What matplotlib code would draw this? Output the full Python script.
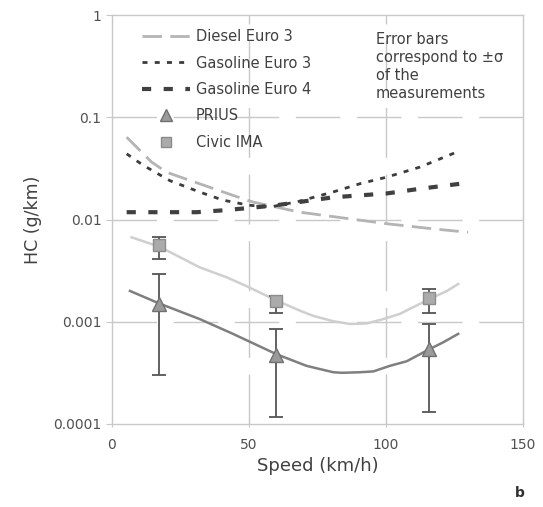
import matplotlib
matplotlib.use("Agg")
import matplotlib.pyplot as plt
from matplotlib.lines import Line2D

# ---- data ----
diesel_x = [5.4, 14.5, 20, 32, 44.3, 51.6, 68.6, 100.3, 117.3, 130]
diesel_y = [0.064, 0.0365, 0.029, 0.0224, 0.0172, 0.0148, 0.0118, 0.0091, 0.0081, 0.0075]

gas3_x = [5.4, 11.4, 21.2, 32, 40.5, 50, 58, 68, 80.7, 90.5, 100.3, 112.4, 125.8]
gas3_y = [0.044, 0.034, 0.024, 0.0186, 0.0155, 0.0138, 0.0133, 0.0150, 0.0186, 0.0224, 0.026, 0.0326, 0.0457]

gas4_x = [5.4, 31, 40.5, 50.4, 60, 80.7, 100.3, 112.4, 128.9]
gas4_y = [0.0118, 0.0118, 0.0123, 0.0130, 0.0138, 0.0165, 0.018, 0.020, 0.0227]

prius_fit_x = [6.6, 17.5, 32.1, 44.2, 60.1, 71, 74.7, 80.8, 84, 90.5, 95.4, 101.5, 107.6, 116, 121, 126.4]
prius_fit_y = [0.0020, 0.00150, 0.00106, 0.00076, 0.00048, 0.00037, 0.00035, 0.00032, 0.000316,
               0.00032, 0.000326, 0.00037, 0.00041, 0.00054, 0.00063, 0.00076]

civic_fit_x = [7.2, 17.5, 32.1, 41.9, 48, 52.8, 60.1, 68.7, 73.5, 80.8, 86.9, 93, 99, 105, 116, 122.3, 126.4]
civic_fit_y = [0.0067, 0.0054, 0.0034, 0.00272, 0.0023, 0.0020, 0.00161, 0.00128, 0.00114, 0.00101,
               0.00095, 0.00096, 0.00106, 0.00119, 0.00167, 0.0020, 0.00234]

meas_x = [17.3, 59.9, 115.7]
prius_y = [0.0015, 0.00047, 0.00054]
prius_lo = [0.00030, 0.000118, 0.000130]
prius_hi = [0.0029, 0.00085, 0.00095]
civic_y = [0.0056, 0.0016, 0.0017]
civic_lo = [0.0041, 0.00123, 0.00123]
civic_hi = [0.0068, 0.0018, 0.0021]

xticks = [0, 50, 100, 150]
yticks = [0.0001, 0.001, 0.01, 0.1, 1]
yticklabels = ["0.0001", "0.001", "0.01", "0.1", "1"]

# ---- figure ----
fig = plt.figure(figsize=(5.43, 5.07), dpi=100)
ax = fig.add_axes([0.206, 0.164, 0.757, 0.806])
ax.set_yscale("log")
ax.set_xlim(0, 150)
ax.set_ylim(0.0001, 1)

grid_c = "#c8c8c8"
for v in [50, 100]:
    ax.axvline(v, color=grid_c, lw=1, dashes=(36, 12), zorder=0)
for v in [0.001, 0.01, 0.1]:
    ax.axhline(v, color=grid_c, lw=1, dashes=(32, 12), zorder=0)

for s in ax.spines.values():
    s.set_color("#c8c8c8")
    s.set_linewidth(1)

diesel_style = dict(color="#b4b4b4", lw=2, dashes=(7, 3))
gas3_style = dict(color="#3c3c3c", lw=2, dashes=(1.8, 2.6))
gas4_style = dict(color="#404040", lw=3, dashes=(2.2, 3))

ax.plot(diesel_x, diesel_y, **diesel_style)
ax.plot(gas3_x, gas3_y, **gas3_style)
ax.plot(gas4_x, gas4_y, **gas4_style)
ax.plot(prius_fit_x, prius_fit_y, color="#7f7f7f", lw=1.8)
ax.plot(civic_fit_x, civic_fit_y, color="#cfcfcf", lw=1.8)

p_err = [[py - lo for py, lo in zip(prius_y, prius_lo)], [hi - py for py, hi in zip(prius_y, prius_hi)]]
c_err = [[cy - lo for cy, lo in zip(civic_y, civic_lo)], [hi - cy for cy, hi in zip(civic_y, civic_hi)]]
ax.errorbar(meas_x, civic_y, yerr=c_err, fmt="s", ms=8.5, mfc="#ababab", mec="#8c8c8c",
            ecolor="#555555", elinewidth=1.3, capsize=5, capthick=1.3, zorder=5)
ax.errorbar(meas_x, prius_y, yerr=p_err, fmt="^", ms=10, mfc="#9a9a9a", mec="#707070",
            ecolor="#555555", elinewidth=1.3, capsize=5, capthick=1.3, zorder=5)

ax.set_xticks(xticks)
ax.set_xticklabels([str(t) for t in xticks])
ax.set_yticks(yticks)
ax.set_yticklabels(yticklabels)
ax.minorticks_off()
ax.tick_params(axis="both", colors="#c8c8c8", labelcolor="#505050", labelsize=10, length=4)
ax.tick_params(axis="x", direction="inout", pad=8)

ax.set_xlabel("Speed (km/h)", fontsize=13, color="#404040", labelpad=4)
ax.set_ylabel("HC (g/km)", fontsize=12.5, color="#404040", labelpad=8)

handles = [
    Line2D([], [], **diesel_style),
    Line2D([], [], **gas3_style),
    Line2D([], [], **gas4_style),
    Line2D([], [], ls="none", marker="^", ms=8, mfc="#9a9a9a", mec="#707070"),
    Line2D([], [], ls="none", marker="s", ms=7, mfc="#ababab", mec="#8c8c8c"),
]
labels = ["Diesel Euro 3", "Gasoline Euro 3", "Gasoline Euro 4", "PRIUS", "Civic IMA"]
leg = ax.legend(handles, labels, loc="upper left", bbox_to_anchor=(0.06, 0.98), frameon=False,
                fontsize=10.5, handlelength=3.3, handletextpad=0.35, labelspacing=0.78,
                borderaxespad=0)
for t in leg.get_texts():
    t.set_color("#404040")

ax.text(0.642, 0.96, "Error bars\ncorrespond to ±σ\nof the\nmeasurements", transform=ax.transAxes,
        fontsize=10.5, color="#404040", va="top", ha="left", linespacing=1.25)

fig.text(0.958, 0.02, "b", fontsize=10, fontweight="bold", color="#303030", ha="center")

fig.savefig("out.png", dpi=100, facecolor="white")
